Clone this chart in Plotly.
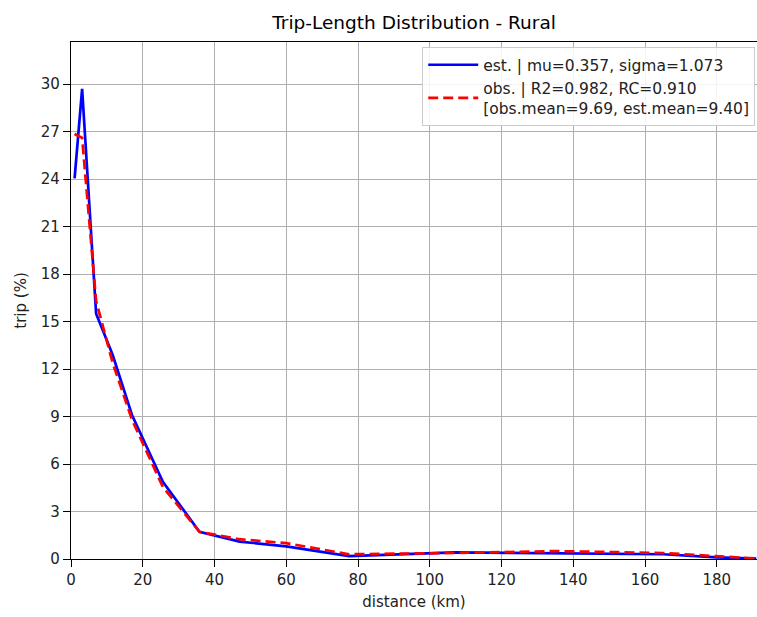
import plotly.graph_objects as go

distance = [1.0, 3.1, 7.0, 11.6, 17.0, 25.6, 35.8, 47.0, 60.0, 77.5, 107.0, 135.0, 165.0, 180.0, 191.0]
est_trip = [24.05, 29.7, 15.5, 12.9, 9.1, 4.88, 1.72, 1.1, 0.8, 0.18, 0.42, 0.38, 0.3, 0.1, 0.02]
obs_trip = [26.85, 26.6, 16.3, 12.4, 8.8, 4.55, 1.72, 1.25, 1.0, 0.3, 0.38, 0.5, 0.38, 0.2, 0.03]

est_label = "est. | mu=0.357, sigma=1.073"
obs_label = "obs. | R2=0.982, RC=0.910<br>[obs.mean=9.69, est.mean=9.40]"

x_ticks = [0, 20, 40, 60, 80, 100, 120, 140, 160, 180]
y_ticks = [0, 3, 6, 9, 12, 15, 18, 21, 24, 27, 30]

fig = go.Figure()
fig.add_trace(go.Scatter(x=distance, y=est_trip, mode="lines", name=est_label,
                         line=dict(color="#0000ff", width=2.7)))
fig.add_trace(go.Scatter(x=distance, y=obs_trip, mode="lines", name=obs_label,
                         line=dict(color="#ff0000", width=2.7, dash="10px,5px")))

axis_common = dict(showline=True, linecolor="black", linewidth=1.3, mirror=True,
                   ticks="outside", ticklen=7, tickcolor="black", tickwidth=1.3,
                   showgrid=True, gridcolor="#b0b0b0", gridwidth=1.3, zeroline=False,
                   automargin=False,
                   tickfont=dict(family="DejaVu Sans", size=15, color="#222222"))

fig.update_layout(
    width=757, height=617,
    paper_bgcolor="white", plot_bgcolor="white",
    margin=dict(l=71, r=0, t=42, b=58, autoexpand=False),
    title=dict(text="Trip-Length Distribution - Rural", x=0.547, xanchor="center",
               y=0.964, yanchor="middle",
               font=dict(family="DejaVu Sans", size=18.5, color="black")),
    xaxis=dict(range=[0, 191.2], tickvals=x_ticks,
               title=dict(text="distance (km)", standoff=8,
                          font=dict(family="DejaVu Sans", size=15, color="#222222")),
               **axis_common),
    yaxis=dict(range=[0, 32.66], tickvals=y_ticks,
               title=dict(text="trip (%)", standoff=10,
                          font=dict(family="DejaVu Sans", size=15, color="#222222")),
               **axis_common),
    legend=dict(x=0.512, y=0.99, xanchor="left", yanchor="top",
                bgcolor="rgba(255,255,255,0.85)", bordercolor="#cccccc", borderwidth=1,
                font=dict(family="DejaVu Sans", size=15.5, color="#222222"),
                tracegroupgap=1, itemwidth=50),
    showlegend=True,
)

fig.write_html("out.html", config={"displayModeBar": False},
               post_script="document.body.style.margin='0';document.body.style.overflow='hidden';")
